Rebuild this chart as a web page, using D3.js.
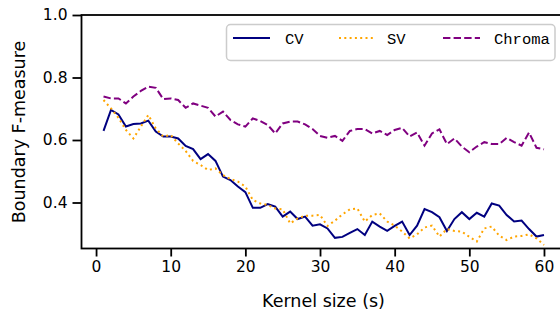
<!DOCTYPE html>
<html>
<head>
<meta charset="utf-8">
<script src="https://cdn.jsdelivr.net/npm/d3@7"></script>
<style>
  html, body { margin: 0; padding: 0; background: #fff; }
  svg { display: block; }
</style>
</head>
<body>
<svg id="chart" width="560" height="313"></svg>
<script>
const kernelSizes = d3.range(1, 61);
const cvValues = [
  0.629, 0.696, 0.682, 0.643, 0.651, 0.653, 0.662, 0.627, 0.611, 0.611,
  0.605, 0.581, 0.571, 0.539, 0.555, 0.533, 0.483, 0.472, 0.451, 0.433,
  0.383, 0.383, 0.395, 0.387, 0.355, 0.371, 0.347, 0.355, 0.326, 0.330,
  0.317, 0.287, 0.290, 0.303, 0.315, 0.296, 0.339, 0.323, 0.309, 0.325,
  0.339, 0.296, 0.326, 0.379, 0.369, 0.353, 0.309, 0.347, 0.369, 0.347,
  0.367, 0.355, 0.397, 0.390, 0.360, 0.339, 0.342, 0.315, 0.291, 0.296
];
const svValues = [
  0.728, 0.701, 0.671, 0.632, 0.605, 0.643, 0.680, 0.637, 0.611, 0.616,
  0.589, 0.565, 0.533, 0.520, 0.504, 0.509, 0.488, 0.475, 0.467, 0.451,
  0.408, 0.397, 0.392, 0.381, 0.378, 0.333, 0.349, 0.358, 0.358, 0.360,
  0.325, 0.342, 0.362, 0.378, 0.381, 0.339, 0.360, 0.365, 0.339, 0.326,
  0.307, 0.285, 0.298, 0.320, 0.326, 0.291, 0.315, 0.309, 0.307, 0.290,
  0.275, 0.317, 0.323, 0.294, 0.280, 0.291, 0.293, 0.298, 0.285, 0.264
];
const chromaValues = [
  0.739, 0.733, 0.733, 0.717, 0.739, 0.757, 0.771, 0.767, 0.731, 0.733,
  0.728, 0.703, 0.717, 0.710, 0.703, 0.675, 0.691, 0.664, 0.650, 0.643,
  0.669, 0.661, 0.648, 0.621, 0.653, 0.659, 0.659, 0.650, 0.635, 0.613,
  0.607, 0.613, 0.597, 0.629, 0.635, 0.635, 0.621, 0.629, 0.616, 0.632,
  0.639, 0.611, 0.624, 0.582, 0.621, 0.634, 0.587, 0.605, 0.579, 0.561,
  0.579, 0.593, 0.587, 0.587, 0.607, 0.593, 0.582, 0.624, 0.575, 0.570
];
const seriesNames = ["CV", "SV", "Chroma"];
const xTicks = [0, 10, 20, 30, 40, 50, 60];
const yTicks = [0.4, 0.6, 0.8, 1.0];

const series = [
  { name: seriesNames[0], values: cvValues, color: "#000080", dash: null },
  { name: seriesNames[1], values: svValues, color: "#FFA500", dash: "2,3.3" },
  { name: seriesNames[2], values: chromaValues, color: "#800080", dash: "7.4,3.2" }
];

const svg = d3.select("#chart");
const pLeft = 81.5, pRight = 566, pTop = 15, pBottom = 248.5;

const x = d3.scaleLinear().domain([-1.95, 62.95]).range([pLeft, pRight]);
const y = d3.scaleLinear().domain([0.2528, 1.0]).range([pBottom, pTop]);

const fontSans = "'DejaVu Sans', sans-serif";

// lines
const line = d3.line().x((d, i) => x(kernelSizes[i])).y(d => y(d));
const g = svg.append("g");
series.forEach(s => {
  g.append("path")
    .datum(s.values)
    .attr("fill", "none")
    .attr("stroke", s.color)
    .attr("stroke-width", 2)
    .attr("stroke-dasharray", s.dash)
    .attr("d", line);
});

// spines
svg.append("rect")
  .attr("x", pLeft).attr("y", pTop)
  .attr("width", pRight - pLeft).attr("height", pBottom - pTop)
  .attr("fill", "none").attr("stroke", "#000").attr("stroke-width", 1.8);

// x axis
const xAxis = d3.axisBottom(x).tickValues(xTicks).tickFormat(d3.format("d")).tickSize(8).tickPadding(4);
const gx = svg.append("g").attr("transform", `translate(0,${pBottom})`).call(xAxis);
gx.select(".domain").remove();
gx.selectAll(".tick line").attr("stroke", "#000").attr("stroke-width", 1.8);
gx.selectAll(".tick text").attr("font-family", fontSans).attr("font-size", 15.5).attr("fill", "#000");

// y axis
const yAxis = d3.axisLeft(y).tickValues(yTicks).tickFormat(d3.format(".1f")).tickSize(9).tickPadding(5);
const gy = svg.append("g").attr("transform", `translate(${pLeft},0)`).call(yAxis);
gy.select(".domain").remove();
gy.selectAll(".tick line").attr("stroke", "#000").attr("stroke-width", 1.8);
gy.selectAll(".tick text").attr("font-family", fontSans).attr("font-size", 15.5).attr("fill", "#000");

// axis labels
svg.append("text")
  .attr("x", 323.5).attr("y", 306.5)
  .attr("text-anchor", "middle")
  .attr("font-family", fontSans).attr("font-size", 17.5)
  .text("Kernel size (s)");
svg.append("text")
  .attr("transform", "translate(25,132) rotate(-90)")
  .attr("text-anchor", "middle")
  .attr("font-family", fontSans).attr("font-size", 17.5)
  .text("Boundary F-measure");

// legend
const lg = svg.append("g");
lg.append("rect")
  .attr("x", 226.5).attr("y", 24.5).attr("width", 328.5).attr("height", 36)
  .attr("rx", 4).attr("ry", 4)
  .attr("fill", "#fff").attr("fill-opacity", 0.8)
  .attr("stroke", "#cccccc").attr("stroke-width", 1.5);
const legendPos = [
  { hx: 233, tx: 285 },
  { hx: 339, tx: 387 },
  { hx: 443, tx: 494 }
];
series.forEach((s, i) => {
  const p = legendPos[i];
  lg.append("line")
    .attr("x1", p.hx).attr("x2", p.hx + 37)
    .attr("y1", 38).attr("y2", 38)
    .attr("stroke", s.color).attr("stroke-width", 2)
    .attr("stroke-dasharray", s.dash);
  lg.append("text")
    .attr("x", p.tx).attr("y", 43.5)
    .attr("font-family", "'Liberation Mono', monospace")
    .attr("font-size", 15.5)
    .attr("fill", "#000")
    .text(s.name);
});
</script>
</body>
</html>
